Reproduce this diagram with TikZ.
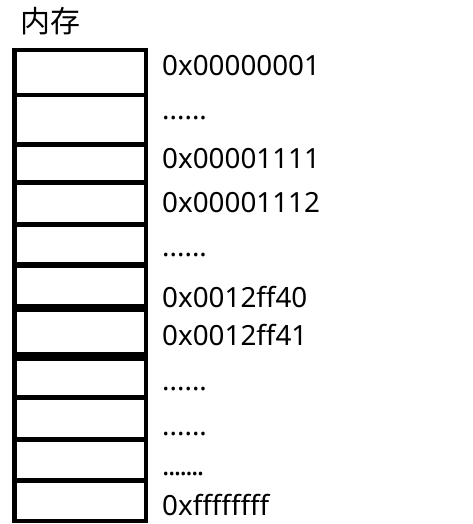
\documentclass[tikz,border=0pt]{standalone}
\usepackage{fontspec}
\setmainfont{Noto Sans}
\newfontfamily\cjk{Noto Sans CJK SC}
\newcommand\gapdots{......}
\newcommand\gapdotslong{{\addfontfeature{LetterSpace=-6}.......}}

\begin{document}
\begin{tikzpicture}[x=1pt,y=-1pt,font=\fontsize{27.8}{32}\selectfont]
  \tikzset{
    wall/.style={draw=black,line width=4.5pt},
    addr/.style={anchor=base west,inner sep=0pt}
  }
  \useasboundingbox (0,0) rectangle (472,524);

  % Heading above the memory column.
  \node[anchor=base west,inner sep=0pt,font=\fontsize{30}{34}\selectfont\cjk] (title) at (20,33) {内存};

  % Memory column and its cell dividers (some dividers are heavier).
  \draw[wall] (14.5,50) rectangle (146,521);
  \foreach \y/\w in {95/4.6,144.5/5,182.5/5,224.5/4.4,265/6,308/8,356.5/8.5,397.5/5,439.5/4.4,480.5/4.4} {
    \draw[line width=\w pt] (14.5,\y) -- (146,\y);
  }

  % Addresses beside the cells.
  \foreach \n/\y/\label in {1/76/0x00000001,2/120/\gapdots,3/168/0x00001111,4/212/0x00001112,
      5/256/\gapdots,6/307/0x0012ff40,7/345/0x0012ff41,8/390/\gapdots,9/435/\gapdots,
      10/475/\gapdotslong,11/515/0xffffffff} {
    \node[addr] (a\n) at (162,\y) {\label};
  }
\end{tikzpicture}
\end{document}
